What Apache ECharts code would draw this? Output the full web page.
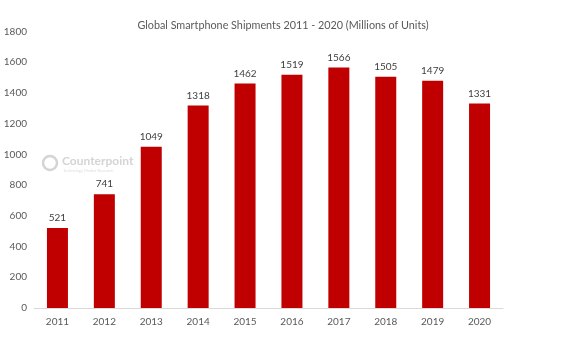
<!DOCTYPE html>
<html><head><meta charset="utf-8">
<script src="https://cdn.jsdelivr.net/npm/echarts@6/dist/echarts.min.js"></script>
<style>html,body{margin:0;padding:0;background:#fff}#c{width:583px;height:338px}</style>
</head><body><div id="c"></div>
<script>
const years = ['2011','2012','2013','2014','2015','2016','2017','2018','2019','2020'];
const shipments = [521, 741, 1049, 1318, 1462, 1519, 1566, 1505, 1479, 1331];
const chartTitle = 'Global Smartphone Shipments 2011 - 2020 (Millions of Units)';

const chart = echarts.init(document.getElementById('c'));
chart.setOption({
  backgroundColor: '#fff',
  animation: false,
  title: {
    text: chartTitle, left: 278, top: 15, textAlign: 'center',
    textStyle: {fontFamily: 'Lato', fontSize: 10.8, fontWeight: 'normal', color: '#595959'}
  },
  grid: {left: 34, right: 80, top: 31.5, bottom: 30, containLabel: false},
  xAxis: {
    type: 'category', data: years,
    axisLine: {lineStyle: {color: '#d9d9d9'}},
    axisTick: {show: false},
    axisLabel: {color: '#595959', fontFamily: 'Lato', fontSize: 10, margin: 9}
  },
  yAxis: {
    type: 'value', min: 0, max: 1800, interval: 200,
    splitLine: {show: false},
    axisLine: {show: false}, axisTick: {show: false},
    axisLabel: {color: '#595959', fontFamily: 'Lato', fontSize: 10, margin: 7, formatter: v => String(v)}
  },
  graphic: [
    {type: 'circle', shape: {cx: 50, cy: 163, r: 7}, style: {fill: 'none', stroke: '#d4d4d4', lineWidth: 2.5}},
    {type: 'text', left: 62, top: 155, style: {text: 'Counterpoint', font: 'bold 12px Lato', fill: '#d4d4d4'}},
    {type: 'text', left: 63, top: 169, style: {text: 'Technology Market Research', font: '4px Lato', fill: '#dcdcdc'}}
  ],
  series: [{
    type: 'bar', data: shipments, barWidth: 21,
    itemStyle: {color: '#c00000'},
    label: {show: true, position: 'top', color: '#404040', fontFamily: 'Lato', fontSize: 10, distance: 5}
  }]
});
</script></body></html>
